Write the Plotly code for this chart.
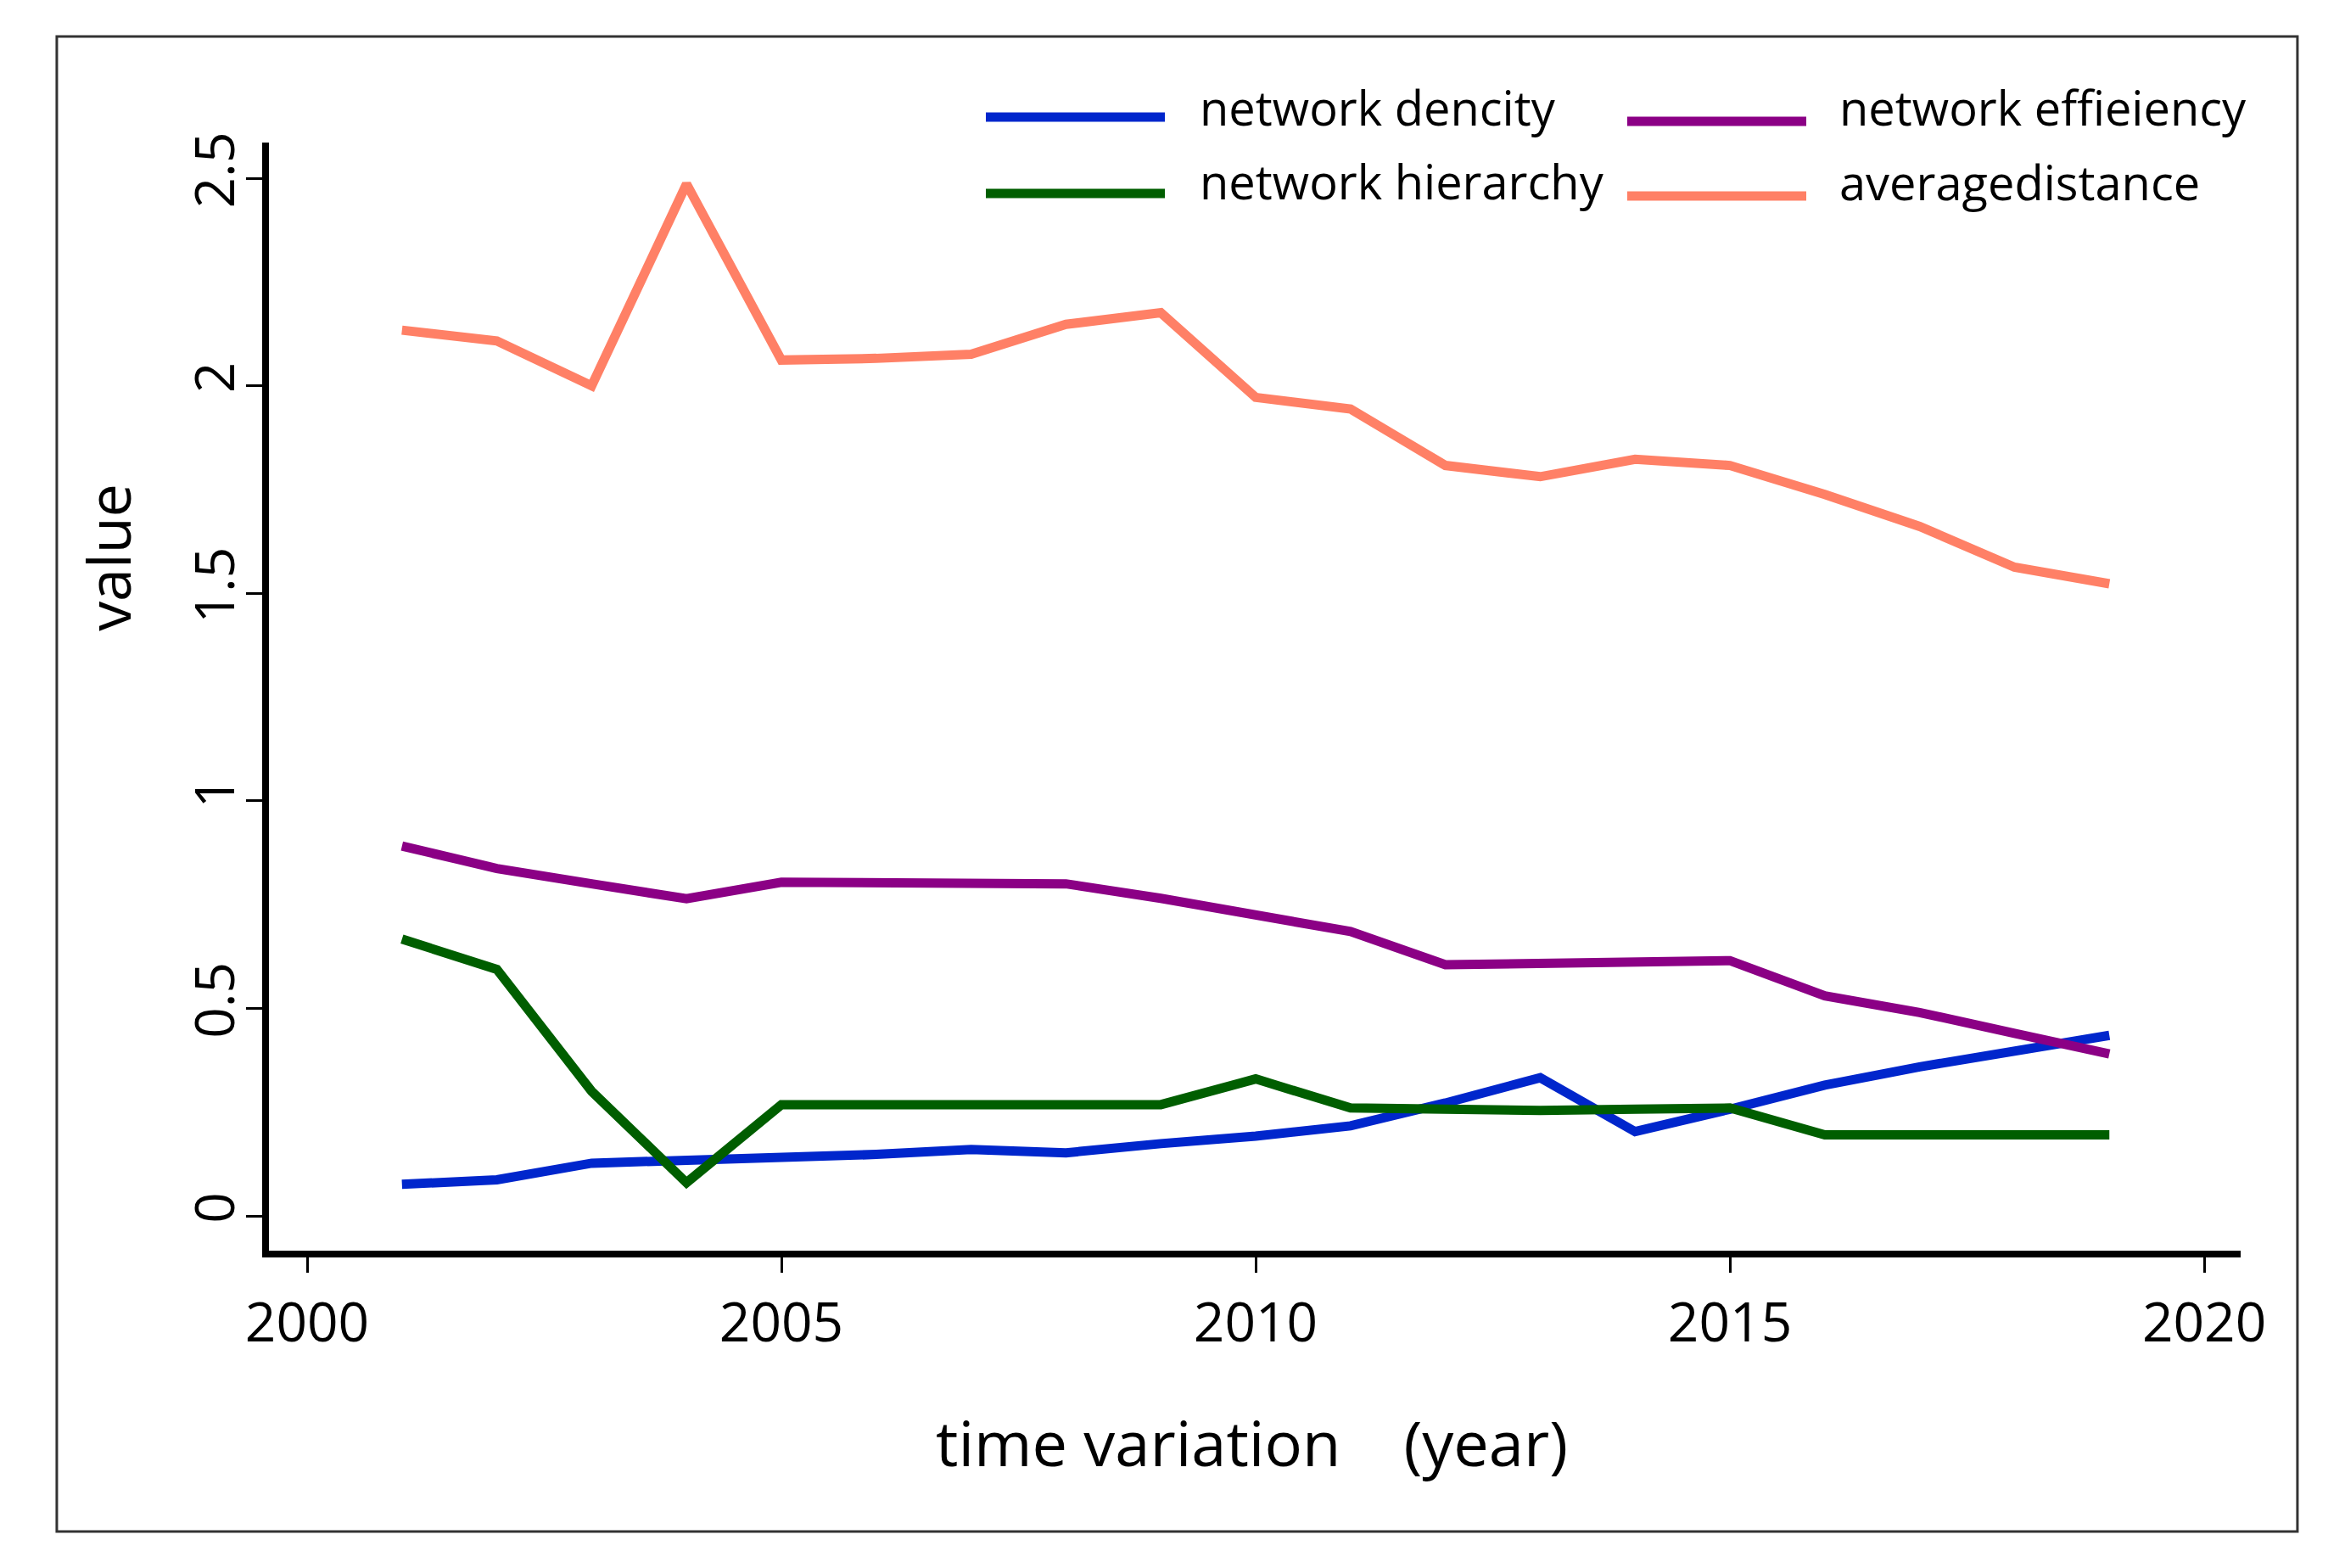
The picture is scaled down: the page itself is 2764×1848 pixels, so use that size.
import plotly.graph_objects as go

years = list(range(2001, 2020))

network_dencity = [0.076, 0.087, 0.127, 0.134, 0.138, 0.148, 0.160, 0.152, 0.174, 0.192,
                   0.217, 0.272, 0.333, 0.203, 0.257, 0.315, 0.359, 0.395, 0.435]
network_effieiency = [0.891, 0.837, 0.800, 0.764, 0.804, 0.803, 0.800, 0.800, 0.765, 0.725,
                      0.685, 0.605, 0.607, 0.610, 0.615, 0.530, 0.490, 0.440, 0.390]
network_hierarchy = [0.667, 0.594, 0.300, 0.080, 0.268, 0.268, 0.268, 0.268, 0.268, 0.330,
                     0.260, 0.257, 0.254, 0.257, 0.260, 0.195, 0.195, 0.195, 0.195]
averagedistance = [2.134, 2.108, 2.000, 2.486, 2.062, 2.066, 2.076, 2.148, 2.176, 1.972,
                   1.944, 1.808, 1.781, 1.823, 1.808, 1.738, 1.661, 1.563, 1.523]

series_names = ["network dencity", "network effieiency", "network hierarchy", "averagedistance"]
series_values = [network_dencity, network_effieiency, network_hierarchy, averagedistance]
series_colors = ["#0026CC", "#8B0085", "#005E00", "#FF8066"]

x_ticks = [2000, 2005, 2010, 2015, 2020]
y_ticks = [0, 0.5, 1, 1.5, 2, 2.5]
y_tick_labels = ["0", "0.5", "1", "1.5", "2", "2.5"]

FONT = "Open Sans"

fig = go.Figure()
for name, vals, col in zip(series_names, series_values, series_colors):
    fig.add_trace(go.Scatter(x=years, y=vals, mode="lines", name=name,
                             line=dict(color=col, width=11), showlegend=False))

# custom legend (long sample lines like the original)
legend_pos = {
    "network dencity": (0.3636, 0.4544, 1.0230, 0.4712, 1.0322),
    "network hierarchy": (0.3636, 0.4544, 0.9541, 0.4712, 0.9655),
    "network effieiency": (0.6889, 0.7797, 1.0191, 0.7956, 1.0322),
    "averagedistance": (0.6889, 0.7797, 0.9518, 0.7956, 0.9648),
}
for name, col in zip(series_names, series_colors):
    x0, x1, ly, tx, ty = legend_pos[name]
    fig.add_shape(type="line", xref="paper", yref="paper", x0=x0, x1=x1, y0=ly, y1=ly,
                  line=dict(color=col, width=11))
    fig.add_annotation(xref="paper", yref="paper", x=tx, y=ty, text=name, showarrow=False,
                       xanchor="left", yanchor="middle",
                       font=dict(family=FONT, size=56, color="black"))

# outer frame
fig.add_shape(type="rect", xref="paper", yref="paper", x0=-0.1076, x1=1.0288,
              y0=-0.2534, y1=1.0957, line=dict(color="#333333", width=3))

# axis titles
fig.add_annotation(xref="paper", yref="paper", x=0.4987, y=-0.1723,
                   text="time variation\u3000(year)", showarrow=False,
                   xanchor="center", yanchor="middle",
                   font=dict(family=FONT, size=74, color="black"))
fig.add_annotation(xref="paper", yref="paper", x=-0.0818, y=0.6256,
                   text="value", showarrow=False, textangle=-90,
                   xanchor="center", yanchor="middle",
                   font=dict(family=FONT, size=70, color="black"))

fig.update_layout(
    width=2756, height=1840,
    margin=dict(l=309, r=123, t=160, b=374, autoexpand=False),
    paper_bgcolor="white", plot_bgcolor="white",
    font=dict(family=FONT, color="black"),
    xaxis=dict(range=[1999.5975, 2020.384], tickvals=x_ticks, showgrid=False,
               zeroline=False, showline=True, linecolor="black", linewidth=8,
               ticks="outside", ticklen=18, tickwidth=3, tickcolor="black",
               tickfont=dict(family=FONT, size=64, color="black"),
               ticklabelstandoff=4),
    yaxis=dict(range=[-0.0838, 2.586], tickvals=y_ticks, ticktext=y_tick_labels,
               showgrid=False, zeroline=False, showline=True, linecolor="black",
               linewidth=8, ticks="outside", ticklen=19, tickwidth=3, tickcolor="black",
               tickangle=-90, tickfont=dict(family=FONT, size=64, color="black"),
               ticklabelstandoff=-12),
)

fig.write_html("out.html")
